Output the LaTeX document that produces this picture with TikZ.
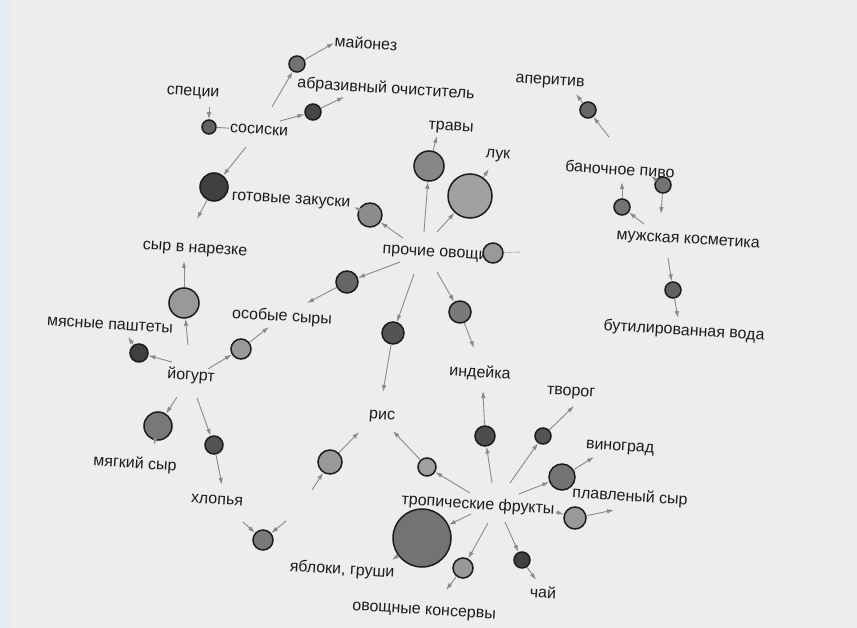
\documentclass[tikz,border=0pt]{standalone}
\usepackage{fontspec}
\setmainfont{Liberation Sans}
\usetikzlibrary{arrows.meta}
\definecolor{paper}{HTML}{EDEDEB}
\definecolor{margin}{HTML}{E3ECF4}
\definecolor{ink}{HTML}{1C1C1C}
\definecolor{wire}{HTML}{8A8A8A}
\begin{document}
\begin{tikzpicture}[x=1pt,y=-1pt,
  rulec/.style={circle,draw=ink,line width=1.5pt,inner sep=0pt},
  item/.style={font=\fontsize{16}{18}\selectfont,text=ink,rotate=-3.5,inner sep=1pt},
  edge/.style={draw=wire,line width=0.9pt,-{Latex[length=7pt,width=4.5pt]}},
  plainedge/.style={draw=wire,line width=0.9pt}]

% paper
\fill[paper] (0,0) rectangle (857,628);
\fill[margin] (0,0) rectangle (10,628);
\useasboundingbox (0,0) rectangle (857,628);

% item labels
\node[item] (mayo)   at (366,43)  {майонез};
\node[item] (abraz)  at (386,89)  {абразивный очиститель};
\node[item] (spec)   at (193,93)  {специи};
\node[item] (sosis)  at (259,130) {сосиски};
\node[item] (gotov)  at (291,201) {готовые закуски};
\node[item] (trav)   at (451,128) {травы};
\node[item] (luk)    at (498,156) {лук};
\node[item] (aper)   at (550,82)  {аперитив};
\node[item] (pivo)   at (620,169) {баночное пиво};
\node[item] (kosm)   at (688,241) {мужская косметика};
\node[item] (voda)   at (684,331) {бутилированная вода};
\node[item] (narez)  at (195,250) {сыр в нарезке};
\node[item] (proch)  at (435,254) {прочие овощи};
\node[item] (pasht)  at (110,325) {мясные паштеты};
\node[item] (osob)   at (282,317) {особые сыры};
\node[item] (yog)    at (191,376) {йогурт};
\node[item] (indey)  at (480,373) {индейка};
\node[item] (tvor)   at (571,393) {творог};
\node[item] (ris)    at (382,417) {рис};
\node[item] (vinog)  at (620,448) {виноград};
\node[item] (myag)   at (135,464) {мягкий сыр};
\node[item] (hlop)   at (217,500) {хлопья};
\node[item] (trop)   at (478,505) {тропические фрукты};
\node[item] (plav)   at (630,497) {плавленый сыр};
\node[item] (yabl)   at (342,570) {яблоки, груши};
\node[item] (kons)   at (424,612) {овощные консервы};
\node[item] (chai)   at (543,592) {чай};

% rules: one incoming and one outgoing connector each
\foreach \n/\x/\y/\d/\f/\ix/\iy/\ox/\oy in {
  m1/297/64/16/black!55/272/107/334/43,
  a1/313/112/16/black!72/280/121/344/97,
  g1/214/187/28/black!75/246/147/197/219,
  c5/370/215/24/black!45/403/238/354/207,
  tr/429/166/30/black!47/424/232/437/136,
  lk/470/196/44/black!37/437/232/489/169,
  c9/347/282/22/black!60/400/262/307/303,
  c10/460/312/22/black!52/437/272/474/348,
  c11/393/333/22/black!67/414/274/383/392,
  ap/588/110/16/black!60/609/137/576/94,
  c14/622/207/16/black!55/644/224/622/182,
  c15/673/290/16/black!62/668/258/678/318,
  sn/184/303/30/black!40/188/345/184/261,
  mp/139/353/18/black!75/172/362/128/337,
  os/241/349/20/black!40/208/369/269/327,
  ms/158/426/28/black!53/177/397/154/445,
  hl/214/445/18/black!68/197/398/222/485,
  c22/330/462/24/black!40/312/490/359/432,
  c23/427/467/18/black!37/470/493/393/431,
  ind/485/436/20/black!70/492/483/483/391,
  tv/543/436/16/black!67/510/483/574/406,
  vn/562/477/26/black!55/519/494/594/457,
  pl/575/518/22/black!40/556/512/614/510,
  big/422/538/58/black!55/471/514/392/560,
  ov/463/568/20/black!40/488/523/446/590,
  ch/522/560/16/black!75/505/522/536/580}{
  \node[rulec,fill=\f,minimum size=\d pt] (\n) at (\x,\y) {};
  \coordinate (\n-in) at (\ix,\iy);
  \coordinate (\n-out) at (\ox,\oy);
  \draw[edge] (\n-in) -- (\n);
  \draw[edge] (\n) -- (\n-out);
}

% rules with other connector patterns
\node[rulec,fill=black!62,minimum size=14pt] (s1) at (209,127) {};
\coordinate (s1-in) at (209,107);
\draw[edge] (s1-in) -- (s1);
\draw[plainedge] (s1) -- (sosis.west);

\node[rulec,fill=black!40,minimum size=20pt] (c8) at (493,253) {};
\coordinate (c8-in) at (520,252);
\draw[plainedge,densely dotted] (c8-in) -- (c8);

\node[rulec,fill=black!55,minimum size=16pt] (bp) at (663,185) {};
\coordinate (bp-out1) at (651,176);
\coordinate (bp-out2) at (661,214);
\draw[edge] (bp) -- (bp-out1);
\draw[edge] (bp) -- (bp-out2);

\node[rulec,fill=black!52,minimum size=20pt] (ya) at (263,540) {};
\coordinate (ya-in1) at (243,522);
\coordinate (ya-in2) at (286,521);
\draw[edge] (ya-in1) -- (ya);
\draw[edge] (ya-in2) -- (ya);
\end{tikzpicture}
\end{document}
